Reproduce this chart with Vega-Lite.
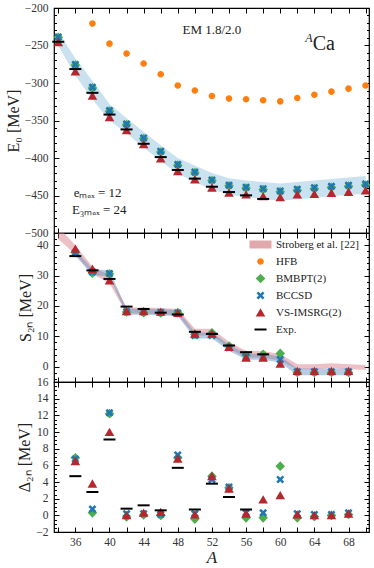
{
"$schema":"https://vega.github.io/schema/vega-lite/v6.json",
"background":"white",
"padding":{"left":4,"top":1,"right":5,"bottom":3},
"spacing":0,
"bounds":"flush",
"datasets":{
"top":[
{"A":38,"m":"HFB","v":-220.8},{"A":40,"m":"HFB","v":-247.5},{"A":42,"m":"HFB","v":-260.8},{"A":44,"m":"HFB","v":-274},{"A":46,"m":"HFB","v":-288.4},{"A":48,"m":"HFB","v":-303.4},{"A":50,"m":"HFB","v":-310},{"A":52,"m":"HFB","v":-317.3},{"A":54,"m":"HFB","v":-320.8},{"A":56,"m":"HFB","v":-321.7},{"A":58,"m":"HFB","v":-323},{"A":60,"m":"HFB","v":-324.5},{"A":62,"m":"HFB","v":-320},{"A":64,"m":"HFB","v":-315.7},{"A":66,"m":"HFB","v":-311.5},{"A":68,"m":"HFB","v":-307.5},{"A":70,"m":"HFB","v":-303.4},
{"A":34,"m":"BMBPT(2)","v":-239},{"A":36,"m":"BMBPT(2)","v":-276},{"A":38,"m":"BMBPT(2)","v":-306.5},{"A":40,"m":"BMBPT(2)","v":-337.5},{"A":42,"m":"BMBPT(2)","v":-355.5},{"A":44,"m":"BMBPT(2)","v":-374},{"A":46,"m":"BMBPT(2)","v":-392},{"A":48,"m":"BMBPT(2)","v":-409.5},{"A":50,"m":"BMBPT(2)","v":-419.5},{"A":52,"m":"BMBPT(2)","v":-430},{"A":54,"m":"BMBPT(2)","v":-437},{"A":56,"m":"BMBPT(2)","v":-440},{"A":58,"m":"BMBPT(2)","v":-442},{"A":60,"m":"BMBPT(2)","v":-445},{"A":62,"m":"BMBPT(2)","v":-443},{"A":64,"m":"BMBPT(2)","v":-441},{"A":66,"m":"BMBPT(2)","v":-439},{"A":68,"m":"BMBPT(2)","v":-437.5},{"A":70,"m":"BMBPT(2)","v":-436},
{"A":34,"m":"BCCSD","v":-238.6},{"A":36,"m":"BCCSD","v":-275.4},{"A":38,"m":"BCCSD","v":-305.7},{"A":40,"m":"BCCSD","v":-336.8},{"A":42,"m":"BCCSD","v":-354.6},{"A":44,"m":"BCCSD","v":-373.3},{"A":46,"m":"BCCSD","v":-391},{"A":48,"m":"BCCSD","v":-408.5},{"A":50,"m":"BCCSD","v":-418.8},{"A":52,"m":"BCCSD","v":-429.4},{"A":54,"m":"BCCSD","v":-436.2},{"A":56,"m":"BCCSD","v":-438.9},{"A":58,"m":"BCCSD","v":-441},{"A":60,"m":"BCCSD","v":-444},{"A":62,"m":"BCCSD","v":-441.5},{"A":64,"m":"BCCSD","v":-439.5},{"A":66,"m":"BCCSD","v":-437.8},{"A":68,"m":"BCCSD","v":-436.3},{"A":70,"m":"BCCSD","v":-434.8},
{"A":34,"m":"VS-IMSRG(2)","v":-245.5},{"A":36,"m":"VS-IMSRG(2)","v":-284.5},{"A":38,"m":"VS-IMSRG(2)","v":-317},{"A":40,"m":"VS-IMSRG(2)","v":-345.5},{"A":42,"m":"VS-IMSRG(2)","v":-363},{"A":44,"m":"VS-IMSRG(2)","v":-381.8},{"A":46,"m":"VS-IMSRG(2)","v":-400.5},{"A":48,"m":"VS-IMSRG(2)","v":-417.5},{"A":50,"m":"VS-IMSRG(2)","v":-428.5},{"A":52,"m":"VS-IMSRG(2)","v":-439.5},{"A":54,"m":"VS-IMSRG(2)","v":-446.2},{"A":56,"m":"VS-IMSRG(2)","v":-448.7},{"A":58,"m":"VS-IMSRG(2)","v":-451},{"A":60,"m":"VS-IMSRG(2)","v":-452.3},{"A":62,"m":"VS-IMSRG(2)","v":-448.7},{"A":64,"m":"VS-IMSRG(2)","v":-447.9},{"A":66,"m":"VS-IMSRG(2)","v":-446.5},{"A":68,"m":"VS-IMSRG(2)","v":-445.2},{"A":70,"m":"VS-IMSRG(2)","v":-443.4},
{"A":34,"m":"Exp.","v":-245},{"A":36,"m":"Exp.","v":-281.4},{"A":38,"m":"Exp.","v":-313.1},{"A":40,"m":"Exp.","v":-342.1},{"A":42,"m":"Exp.","v":-361.9},{"A":44,"m":"Exp.","v":-381},{"A":46,"m":"Exp.","v":-398.8},{"A":48,"m":"Exp.","v":-416},{"A":50,"m":"Exp.","v":-427.5},{"A":52,"m":"Exp.","v":-438.3},{"A":54,"m":"Exp.","v":-445.4},{"A":56,"m":"Exp.","v":-449.8},{"A":58,"m":"Exp.","v":-454.6}
],
"topband":[
{"A":34,"lo":-250,"hi":-232},{"A":36,"lo":-290,"hi":-267},{"A":38,"lo":-322,"hi":-297},{"A":40,"lo":-350,"hi":-328},{"A":42,"lo":-367,"hi":-347},{"A":44,"lo":-386,"hi":-365},{"A":46,"lo":-404,"hi":-383},{"A":48,"lo":-421,"hi":-400},{"A":50,"lo":-432,"hi":-410},{"A":52,"lo":-442,"hi":-420},{"A":54,"lo":-449,"hi":-427},{"A":56,"lo":-452,"hi":-430},{"A":58,"lo":-455,"hi":-432},{"A":60,"lo":-457,"hi":-434},{"A":62,"lo":-455,"hi":-432},{"A":64,"lo":-453,"hi":-430},{"A":66,"lo":-451,"hi":-428},{"A":68,"lo":-449,"hi":-426},{"A":70,"lo":-448,"hi":-424}
],
"notes":[
{"A":52,"v":-229.7,"t":"EM 1.8/2.0","k":"a"},
{"A":63.8,"v":-248.4,"t":"Ca","k":"b"},
{"A":63.8,"v":-239.5,"t":"A","k":"c"},
{"A":35.8,"v":-446.6,"t":"eₘₐₓ = 12","k":"d"},
{"A":35.6,"v":-468.7,"t":"E₃ₘₐₓ = 24","k":"d"}
],
"mid":[
{"A":36,"m":"BMBPT(2)","v":37.6},{"A":38,"m":"BMBPT(2)","v":30.8},{"A":40,"m":"BMBPT(2)","v":30.6},{"A":42,"m":"BMBPT(2)","v":18.0},{"A":44,"m":"BMBPT(2)","v":17.8},{"A":46,"m":"BMBPT(2)","v":17.7},{"A":48,"m":"BMBPT(2)","v":17.8},{"A":50,"m":"BMBPT(2)","v":10.6},{"A":52,"m":"BMBPT(2)","v":11.2},{"A":54,"m":"BMBPT(2)","v":6.8},{"A":56,"m":"BMBPT(2)","v":3.8},{"A":58,"m":"BMBPT(2)","v":4.1},{"A":60,"m":"BMBPT(2)","v":4.4},{"A":62,"m":"BMBPT(2)","v":-1.9},{"A":64,"m":"BMBPT(2)","v":-1.9},{"A":66,"m":"BMBPT(2)","v":-1.9},{"A":68,"m":"BMBPT(2)","v":-1.9},
{"A":36,"m":"BCCSD","v":37.5},{"A":38,"m":"BCCSD","v":31.2},{"A":40,"m":"BCCSD","v":30.7},{"A":42,"m":"BCCSD","v":18.1},{"A":44,"m":"BCCSD","v":18.1},{"A":46,"m":"BCCSD","v":17.9},{"A":48,"m":"BCCSD","v":17.7},{"A":50,"m":"BCCSD","v":10.3},{"A":52,"m":"BCCSD","v":10.3},{"A":54,"m":"BCCSD","v":6.3},{"A":56,"m":"BCCSD","v":3.3},{"A":58,"m":"BCCSD","v":3.3},{"A":60,"m":"BCCSD","v":2.4},{"A":62,"m":"BCCSD","v":-1.6},{"A":64,"m":"BCCSD","v":-1.6},{"A":66,"m":"BCCSD","v":-1.6},{"A":68,"m":"BCCSD","v":-1.6},
{"A":36,"m":"VS-IMSRG(2)","v":38.8},{"A":38,"m":"VS-IMSRG(2)","v":32.2},{"A":40,"m":"VS-IMSRG(2)","v":28.4},{"A":42,"m":"VS-IMSRG(2)","v":18.3},{"A":44,"m":"VS-IMSRG(2)","v":18.3},{"A":46,"m":"VS-IMSRG(2)","v":18.1},{"A":48,"m":"VS-IMSRG(2)","v":17.7},{"A":50,"m":"VS-IMSRG(2)","v":10.9},{"A":52,"m":"VS-IMSRG(2)","v":10.9},{"A":54,"m":"VS-IMSRG(2)","v":6.5},{"A":56,"m":"VS-IMSRG(2)","v":3.0},{"A":58,"m":"VS-IMSRG(2)","v":3.0},{"A":60,"m":"VS-IMSRG(2)","v":1.0},{"A":62,"m":"VS-IMSRG(2)","v":-1.4},{"A":64,"m":"VS-IMSRG(2)","v":-1.4},{"A":66,"m":"VS-IMSRG(2)","v":-1.4},{"A":68,"m":"VS-IMSRG(2)","v":-1.4},
{"A":36,"m":"Exp.","v":36.4},{"A":38,"m":"Exp.","v":31.7},{"A":40,"m":"Exp.","v":28.9},{"A":42,"m":"Exp.","v":19.8},{"A":44,"m":"Exp.","v":19.0},{"A":46,"m":"Exp.","v":17.8},{"A":48,"m":"Exp.","v":17.2},{"A":50,"m":"Exp.","v":11.5},{"A":52,"m":"Exp.","v":10.8},{"A":54,"m":"Exp.","v":7.0},{"A":56,"m":"Exp.","v":4.8},{"A":58,"m":"Exp.","v":4.1}
],
"pink":[
{"A":34,"lo":42,"hi":46},{"A":36,"lo":37,"hi":40},{"A":38,"lo":30.5,"hi":33},{"A":40,"lo":27.5,"hi":30},{"A":42,"lo":17.5,"hi":19.5},{"A":44,"lo":17.5,"hi":19.5},{"A":46,"lo":17.3,"hi":19.3},{"A":48,"lo":17,"hi":19},{"A":50,"lo":10.3,"hi":12.5},{"A":52,"lo":10.3,"hi":12.5},{"A":54,"lo":6,"hi":8.2},{"A":56,"lo":3,"hi":5.2},{"A":58,"lo":3,"hi":5.2},{"A":60,"lo":2,"hi":4.2},{"A":62,"lo":-0.8,"hi":0.8},{"A":64,"lo":-0.8,"hi":0.8},{"A":66,"lo":-0.4,"hi":1.2},{"A":68,"lo":-0.8,"hi":0.8},{"A":70,"lo":-1,"hi":0.6}
],
"blueband":[
{"A":36,"lo":36.5,"hi":38.5},{"A":38,"lo":30.2,"hi":32.2},{"A":40,"lo":29.7,"hi":31.7},{"A":42,"lo":17.1,"hi":19.1},{"A":44,"lo":17.1,"hi":19.1},{"A":46,"lo":16.9,"hi":18.9},{"A":48,"lo":16.7,"hi":18.7},{"A":50,"lo":9.3,"hi":11.3},{"A":52,"lo":9.3,"hi":11.3},{"A":54,"lo":5.3,"hi":7.3},{"A":56,"lo":2.3,"hi":4.3},{"A":58,"lo":2.3,"hi":4.3},{"A":60,"lo":1.4,"hi":3.4},{"A":62,"lo":-2.8,"hi":-0.6},{"A":64,"lo":-2.8,"hi":-0.6},{"A":66,"lo":-2.8,"hi":-0.6},{"A":68,"lo":-2.8,"hi":-0.6}
],
"bot":[
{"A":36,"m":"BMBPT(2)","v":6.9},{"A":38,"m":"BMBPT(2)","v":0.3},{"A":40,"m":"BMBPT(2)","v":12.2},{"A":42,"m":"BMBPT(2)","v":-0.2},{"A":44,"m":"BMBPT(2)","v":0.05},{"A":46,"m":"BMBPT(2)","v":0.0},{"A":48,"m":"BMBPT(2)","v":6.9},{"A":50,"m":"BMBPT(2)","v":-0.45},{"A":52,"m":"BMBPT(2)","v":4.7},{"A":54,"m":"BMBPT(2)","v":3.3},{"A":56,"m":"BMBPT(2)","v":-0.3},{"A":58,"m":"BMBPT(2)","v":-0.3},{"A":60,"m":"BMBPT(2)","v":5.9},{"A":62,"m":"BMBPT(2)","v":-0.3},{"A":64,"m":"BMBPT(2)","v":-0.15},{"A":66,"m":"BMBPT(2)","v":0.0},{"A":68,"m":"BMBPT(2)","v":0.1},
{"A":36,"m":"BCCSD","v":6.75},{"A":38,"m":"BCCSD","v":0.75},{"A":40,"m":"BCCSD","v":12.3},{"A":42,"m":"BCCSD","v":0.2},{"A":44,"m":"BCCSD","v":0.2},{"A":46,"m":"BCCSD","v":0.1},{"A":48,"m":"BCCSD","v":7.25},{"A":50,"m":"BCCSD","v":0.2},{"A":52,"m":"BCCSD","v":4.3},{"A":54,"m":"BCCSD","v":3.4},{"A":56,"m":"BCCSD","v":0.3},{"A":58,"m":"BCCSD","v":0.3},{"A":60,"m":"BCCSD","v":4.3},{"A":62,"m":"BCCSD","v":0.2},{"A":64,"m":"BCCSD","v":0.1},{"A":66,"m":"BCCSD","v":0.1},{"A":68,"m":"BCCSD","v":0.3},
{"A":36,"m":"VS-IMSRG(2)","v":6.5},{"A":38,"m":"VS-IMSRG(2)","v":3.8},{"A":40,"m":"VS-IMSRG(2)","v":10.0},{"A":42,"m":"VS-IMSRG(2)","v":0.0},{"A":44,"m":"VS-IMSRG(2)","v":0.3},{"A":46,"m":"VS-IMSRG(2)","v":0.4},{"A":48,"m":"VS-IMSRG(2)","v":6.8},{"A":50,"m":"VS-IMSRG(2)","v":0.1},{"A":52,"m":"VS-IMSRG(2)","v":4.7},{"A":54,"m":"VS-IMSRG(2)","v":3.2},{"A":56,"m":"VS-IMSRG(2)","v":0.2},{"A":58,"m":"VS-IMSRG(2)","v":1.9},{"A":60,"m":"VS-IMSRG(2)","v":2.4},{"A":62,"m":"VS-IMSRG(2)","v":0.1},{"A":64,"m":"VS-IMSRG(2)","v":0.0},{"A":66,"m":"VS-IMSRG(2)","v":0.0},{"A":68,"m":"VS-IMSRG(2)","v":0.2},
{"A":36,"m":"Exp.","v":4.7},{"A":38,"m":"Exp.","v":2.8},{"A":40,"m":"Exp.","v":9.1},{"A":42,"m":"Exp.","v":0.8},{"A":44,"m":"Exp.","v":1.2},{"A":46,"m":"Exp.","v":0.6},{"A":48,"m":"Exp.","v":5.7},{"A":50,"m":"Exp.","v":0.7},{"A":52,"m":"Exp.","v":3.8},{"A":54,"m":"Exp.","v":2.2},{"A":56,"m":"Exp.","v":0.7}
]
},
"vconcat":[
{
"width":315,"height":225,
"resolve":{"axis":{"x":"independent","y":"independent"}},
"layer":[
{"data":{"name":"topband"},"mark":{"type":"area","color":"#9ecae1","opacity":0.55},
"encoding":{
"x":{"field":"A","type":"quantitative","scale":{"domain":[33.5,70.4],"nice":false,"zero":false},"axis":{"orient":"bottom","values":[34,36,38,40,42,44,46,48,50,52,54,56,58,60,62,64,66,68,70],"labels":false,"tickSize":-5,"title":null}},
"y":{"field":"lo","type":"quantitative","scale":{"domain":[-500,-200],"nice":false,"zero":false},"axis":{"orient":"left","values":[-500,-450,-400,-350,-300,-250,-200],"tickSize":-5,"labelPadding":11,"labelOverlap":false,"title":"E₀ [MeV]"}},
"y2":{"field":"hi"}}},
{"data":{"name":"top"},"mark":{"type":"point","filled":true,"opacity":1,"size":4,"strokeWidth":0},
"encoding":{
"x":{"field":"A","type":"quantitative","scale":{"domain":[33.5,70.4],"nice":false,"zero":false},"axis":{"orient":"top","values":[34,36,38,40,42,44,46,48,50,52,54,56,58,60,62,64,66,68,70],"labels":false,"tickSize":-5,"title":null}},
"y":{"field":"v","type":"quantitative","scale":{"domain":[-500,-200],"nice":false,"zero":false},"axis":{"orient":"left","values":[-490,-480,-470,-460,-440,-430,-420,-410,-390,-380,-370,-360,-340,-330,-320,-310,-290,-280,-270,-260,-240,-230,-220,-210],"tickSize":-2.5,"labels":false,"title":null}},
"color":{"field":"m","type":"nominal","scale":{"domain":["Stroberg et al. [22]","HFB","BMBPT(2)","BCCSD","VS-IMSRG(2)","Exp."],"range":["#e2a9ad","#ff7f0e","#4cae4c","#1f77b4","#b5272d","#000000"]},"legend":null},
"shape":{"field":"m","type":"nominal","scale":{"domain":["Stroberg et al. [22]","HFB","BMBPT(2)","BCCSD","VS-IMSRG(2)","Exp."],"range":["M-11,-4L11,-4L11,4L-11,4Z","M-3.3,0A3.3,3.3,0,1,1,3.3,0A3.3,3.3,0,1,1,-3.3,0Z","M0,-4.8L4.8,0L0,4.8L-4.8,0Z","M-4,-2.2L-2.2,-4L0,-1.8L2.2,-4L4,-2.2L1.8,0L4,2.2L2.2,4L0,1.8L-2.2,4L-4,2.2L-1.8,0Z","M0,-4.3L4.8,4L-4.8,4Z","M-6,-1L6,-1L6,1L-6,1Z"]},"legend":null}}},
{"data":{"name":"notes"},"transform":[{"filter":"datum.k=='a'"}],"mark":{"type":"text","font":"Liberation Serif","fontSize":13,"color":"#222"},
"encoding":{
"x":{"field":"A","type":"quantitative","scale":{"domain":[33.5,70.4],"nice":false,"zero":false},"axis":null},
"y":{"field":"v","type":"quantitative","scale":{"domain":[-500,-200],"nice":false,"zero":false},"axis":{"orient":"right","values":[-500,-450,-400,-350,-300,-250,-200],"tickSize":-5,"labels":false,"title":null}},
"text":{"field":"t"}}},
{"data":{"name":"notes"},"transform":[{"filter":"datum.k=='b'"}],"mark":{"type":"text","font":"Liberation Serif","fontSize":20,"align":"left","color":"#222"},
"encoding":{
"x":{"field":"A","type":"quantitative","scale":{"domain":[33.5,70.4],"nice":false,"zero":false},"axis":null},
"y":{"field":"v","type":"quantitative","scale":{"domain":[-500,-200],"nice":false,"zero":false},"axis":{"orient":"right","values":[-490,-480,-470,-460,-440,-430,-420,-410,-390,-380,-370,-360,-340,-330,-320,-310,-290,-280,-270,-260,-240,-230,-220,-210],"tickSize":-2.5,"labels":false,"title":null}},
"text":{"field":"t"}}},
{"data":{"name":"notes"},"transform":[{"filter":"datum.k=='c'"}],"mark":{"type":"text","font":"Liberation Serif","fontSize":12,"fontStyle":"italic","align":"right","color":"#222"},
"encoding":{
"x":{"field":"A","type":"quantitative","scale":{"domain":[33.5,70.4],"nice":false,"zero":false},"axis":null},
"y":{"field":"v","type":"quantitative","scale":{"domain":[-500,-200],"nice":false,"zero":false},"axis":null},
"text":{"field":"t"}}},
{"data":{"name":"notes"},"transform":[{"filter":"datum.k=='d'"}],"mark":{"type":"text","font":"Liberation Serif","fontSize":13,"align":"left","color":"#222"},
"encoding":{
"x":{"field":"A","type":"quantitative","scale":{"domain":[33.5,70.4],"nice":false,"zero":false},"axis":null},
"y":{"field":"v","type":"quantitative","scale":{"domain":[-500,-200],"nice":false,"zero":false},"axis":null},
"text":{"field":"t"}}}
]
},
{
"width":315,"height":149,
"resolve":{"axis":{"x":"independent","y":"independent"}},
"layer":[
{"data":{"name":"pink"},"mark":{"type":"area","color":"#d9828a","opacity":0.5,"clip":true},
"encoding":{
"x":{"field":"A","type":"quantitative","scale":{"domain":[33.5,70.4],"nice":false,"zero":false},"axis":{"orient":"bottom","values":[34,36,38,40,42,44,46,48,50,52,54,56,58,60,62,64,66,68,70],"labels":false,"tickSize":-5,"title":null}},
"y":{"field":"lo","type":"quantitative","scale":{"domain":[-5,44],"nice":false,"zero":false},"axis":{"orient":"left","values":[0,10,20,30,40],"tickSize":-5,"labelPadding":11,"labelOverlap":false,"title":"S₂ₙ [MeV]"}},
"y2":{"field":"hi"}}},
{"data":{"name":"blueband"},"mark":{"type":"area","color":"#5f8fc4","opacity":0.45,"clip":true},
"encoding":{
"x":{"field":"A","type":"quantitative","scale":{"domain":[33.5,70.4],"nice":false,"zero":false},"axis":{"orient":"top","values":[34,36,38,40,42,44,46,48,50,52,54,56,58,60,62,64,66,68,70],"labels":false,"tickSize":-5,"title":null}},
"y":{"field":"lo","type":"quantitative","scale":{"domain":[-5,44],"nice":false,"zero":false},"axis":{"orient":"left","values":[-4,-2,2,4,6,8,12,14,16,18,22,24,26,28,32,34,36,38,42],"tickSize":-2.5,"labels":false,"title":null}},
"y2":{"field":"hi"}}},
{"mark":{"type":"rule","strokeDash":[5,3],"color":"#000","strokeWidth":1},
"encoding":{
"y":{"datum":0,"type":"quantitative","scale":{"domain":[-5,44],"nice":false,"zero":false},"axis":{"orient":"right","values":[0,10,20,30,40],"tickSize":-5,"labels":false,"title":null}}}},
{"data":{"name":"mid"},"mark":{"type":"point","filled":true,"opacity":1,"size":4,"strokeWidth":0,"clip":true},
"encoding":{
"x":{"field":"A","type":"quantitative","scale":{"domain":[33.5,70.4],"nice":false,"zero":false},"axis":null},
"y":{"field":"v","type":"quantitative","scale":{"domain":[-5,44],"nice":false,"zero":false},"axis":{"orient":"right","values":[-4,-2,2,4,6,8,12,14,16,18,22,24,26,28,32,34,36,38,42],"tickSize":-2.5,"labels":false,"title":null}},
"color":{"field":"m","type":"nominal","scale":{"domain":["Stroberg et al. [22]","HFB","BMBPT(2)","BCCSD","VS-IMSRG(2)","Exp."],"range":["#e2a9ad","#ff7f0e","#4cae4c","#1f77b4","#b5272d","#000000"]},"legend":{"orient":"none","legendX":201,"legendY":6,"title":null,"symbolSize":4,"labelOffset":10,"labelFontSize":11,"rowPadding":5,"padding":0,"symbolStrokeWidth":0,"symbolOpacity":1,"labelLimit":200}},
"shape":{"field":"m","type":"nominal","scale":{"domain":["Stroberg et al. [22]","HFB","BMBPT(2)","BCCSD","VS-IMSRG(2)","Exp."],"range":["M-11,-4L11,-4L11,4L-11,4Z","M-3.3,0A3.3,3.3,0,1,1,3.3,0A3.3,3.3,0,1,1,-3.3,0Z","M0,-4.8L4.8,0L0,4.8L-4.8,0Z","M-4,-2.2L-2.2,-4L0,-1.8L2.2,-4L4,-2.2L1.8,0L4,2.2L2.2,4L0,1.8L-2.2,4L-4,2.2L-1.8,0Z","M0,-4.3L4.8,4L-4.8,4Z","M-6,-1L6,-1L6,1L-6,1Z"]},"legend":{"orient":"none","legendX":201,"legendY":6,"title":null,"symbolSize":4,"labelOffset":10,"labelFontSize":11,"rowPadding":5,"padding":0,"symbolStrokeWidth":0,"symbolOpacity":1,"labelLimit":200}}}}
]
},
{
"width":315,"height":150,
"resolve":{"axis":{"x":"independent","y":"independent"}},
"layer":[
{"data":{"name":"bot"},"transform":[{"filter":"datum.m=='BMBPT(2)'"}],"mark":{"type":"point","filled":true,"opacity":1,"size":4,"strokeWidth":0},
"encoding":{
"x":{"field":"A","type":"quantitative","scale":{"domain":[33.5,70.4],"nice":false,"zero":false},"axis":{"orient":"bottom","values":[34,36,38,40,42,44,46,48,50,52,54,56,58,60,62,64,66,68,70],"tickSize":-5,"labelPadding":9,"labelOverlap":false,"labelFlush":false,"labelExpr":"datum.value % 4 == 0 ? datum.label : ''","title":"A","titleFontStyle":"italic","titleFontSize":17,"titlePadding":2}},
"y":{"field":"v","type":"quantitative","scale":{"domain":[-2,16],"nice":false,"zero":false},"axis":{"orient":"left","values":[-2,0,2,4,6,8,10,12,14,16],"tickSize":-5,"labelPadding":11,"labelOverlap":false,"title":"Δ₂ₙ [MeV]"}},
"color":{"field":"m","type":"nominal","scale":{"domain":["Stroberg et al. [22]","HFB","BMBPT(2)","BCCSD","VS-IMSRG(2)","Exp."],"range":["#e2a9ad","#ff7f0e","#4cae4c","#1f77b4","#b5272d","#000000"]},"legend":null},
"shape":{"field":"m","type":"nominal","scale":{"domain":["Stroberg et al. [22]","HFB","BMBPT(2)","BCCSD","VS-IMSRG(2)","Exp."],"range":["M-11,-4L11,-4L11,4L-11,4Z","M-3.3,0A3.3,3.3,0,1,1,3.3,0A3.3,3.3,0,1,1,-3.3,0Z","M0,-4.8L4.8,0L0,4.8L-4.8,0Z","M-4,-2.2L-2.2,-4L0,-1.8L2.2,-4L4,-2.2L1.8,0L4,2.2L2.2,4L0,1.8L-2.2,4L-4,2.2L-1.8,0Z","M0,-4.3L4.8,4L-4.8,4Z","M-6,-1L6,-1L6,1L-6,1Z"]},"legend":null}}},
{"data":{"name":"bot"},"transform":[{"filter":"datum.m=='BCCSD'"}],"mark":{"type":"point","filled":true,"opacity":1,"size":4,"strokeWidth":0},
"encoding":{
"x":{"field":"A","type":"quantitative","scale":{"domain":[33.5,70.4],"nice":false,"zero":false},"axis":{"orient":"top","values":[34,36,38,40,42,44,46,48,50,52,54,56,58,60,62,64,66,68,70],"labels":false,"tickSize":-5,"title":null}},
"y":{"field":"v","type":"quantitative","scale":{"domain":[-2,16],"nice":false,"zero":false},"axis":{"orient":"left","values":[-1.5,-1,-0.5,0.5,1,1.5,2.5,3,3.5,4.5,5,5.5,6.5,7,7.5,8.5,9,9.5,10.5,11,11.5,12.5,13,13.5,14.5,15,15.5],"tickSize":-2.5,"labels":false,"title":null}},
"color":{"field":"m","type":"nominal","scale":{"domain":["Stroberg et al. [22]","HFB","BMBPT(2)","BCCSD","VS-IMSRG(2)","Exp."],"range":["#e2a9ad","#ff7f0e","#4cae4c","#1f77b4","#b5272d","#000000"]},"legend":null},
"shape":{"field":"m","type":"nominal","scale":{"domain":["Stroberg et al. [22]","HFB","BMBPT(2)","BCCSD","VS-IMSRG(2)","Exp."],"range":["M-11,-4L11,-4L11,4L-11,4Z","M-3.3,0A3.3,3.3,0,1,1,3.3,0A3.3,3.3,0,1,1,-3.3,0Z","M0,-4.8L4.8,0L0,4.8L-4.8,0Z","M-4,-2.2L-2.2,-4L0,-1.8L2.2,-4L4,-2.2L1.8,0L4,2.2L2.2,4L0,1.8L-2.2,4L-4,2.2L-1.8,0Z","M0,-4.3L4.8,4L-4.8,4Z","M-6,-1L6,-1L6,1L-6,1Z"]},"legend":null}}},
{"data":{"name":"bot"},"transform":[{"filter":"datum.m=='VS-IMSRG(2)'"}],"mark":{"type":"point","filled":true,"opacity":1,"size":4,"strokeWidth":0},
"encoding":{
"x":{"field":"A","type":"quantitative","scale":{"domain":[33.5,70.4],"nice":false,"zero":false},"axis":null},
"y":{"field":"v","type":"quantitative","scale":{"domain":[-2,16],"nice":false,"zero":false},"axis":{"orient":"right","values":[-2,0,2,4,6,8,10,12,14,16],"tickSize":-5,"labels":false,"title":null}},
"color":{"field":"m","type":"nominal","scale":{"domain":["Stroberg et al. [22]","HFB","BMBPT(2)","BCCSD","VS-IMSRG(2)","Exp."],"range":["#e2a9ad","#ff7f0e","#4cae4c","#1f77b4","#b5272d","#000000"]},"legend":null},
"shape":{"field":"m","type":"nominal","scale":{"domain":["Stroberg et al. [22]","HFB","BMBPT(2)","BCCSD","VS-IMSRG(2)","Exp."],"range":["M-11,-4L11,-4L11,4L-11,4Z","M-3.3,0A3.3,3.3,0,1,1,3.3,0A3.3,3.3,0,1,1,-3.3,0Z","M0,-4.8L4.8,0L0,4.8L-4.8,0Z","M-4,-2.2L-2.2,-4L0,-1.8L2.2,-4L4,-2.2L1.8,0L4,2.2L2.2,4L0,1.8L-2.2,4L-4,2.2L-1.8,0Z","M0,-4.3L4.8,4L-4.8,4Z","M-6,-1L6,-1L6,1L-6,1Z"]},"legend":null}}},
{"data":{"name":"bot"},"transform":[{"filter":"datum.m=='Exp.'"}],"mark":{"type":"point","filled":true,"opacity":1,"size":4,"strokeWidth":0},
"encoding":{
"x":{"field":"A","type":"quantitative","scale":{"domain":[33.5,70.4],"nice":false,"zero":false},"axis":null},
"y":{"field":"v","type":"quantitative","scale":{"domain":[-2,16],"nice":false,"zero":false},"axis":{"orient":"right","values":[-1.5,-1,-0.5,0.5,1,1.5,2.5,3,3.5,4.5,5,5.5,6.5,7,7.5,8.5,9,9.5,10.5,11,11.5,12.5,13,13.5,14.5,15,15.5],"tickSize":-2.5,"labels":false,"title":null}},
"color":{"field":"m","type":"nominal","scale":{"domain":["Stroberg et al. [22]","HFB","BMBPT(2)","BCCSD","VS-IMSRG(2)","Exp."],"range":["#e2a9ad","#ff7f0e","#4cae4c","#1f77b4","#b5272d","#000000"]},"legend":null},
"shape":{"field":"m","type":"nominal","scale":{"domain":["Stroberg et al. [22]","HFB","BMBPT(2)","BCCSD","VS-IMSRG(2)","Exp."],"range":["M-11,-4L11,-4L11,4L-11,4Z","M-3.3,0A3.3,3.3,0,1,1,3.3,0A3.3,3.3,0,1,1,-3.3,0Z","M0,-4.8L4.8,0L0,4.8L-4.8,0Z","M-4,-2.2L-2.2,-4L0,-1.8L2.2,-4L4,-2.2L1.8,0L4,2.2L2.2,4L0,1.8L-2.2,4L-4,2.2L-1.8,0Z","M0,-4.3L4.8,4L-4.8,4Z","M-6,-1L6,-1L6,1L-6,1Z"]},"legend":null}}}
]
}
],
"resolve":{"scale":{"color":"independent","shape":"independent"},"legend":{"color":"independent","shape":"independent"}},
"config":{
"view":{"stroke":"#000","strokeWidth":1.2},
"axis":{"domain":false,"grid":false,"tickColor":"#000","tickWidth":1,"labelFont":"Liberation Serif","labelFontSize":11.5,"labelColor":"#333","titleFont":"Liberation Serif","titleFontSize":16,"titleFontWeight":"normal","titleColor":"#222","titlePadding":3},
"legend":{"labelFont":"Liberation Serif","labelFontSize":11,"labelColor":"#222"}
}
}
